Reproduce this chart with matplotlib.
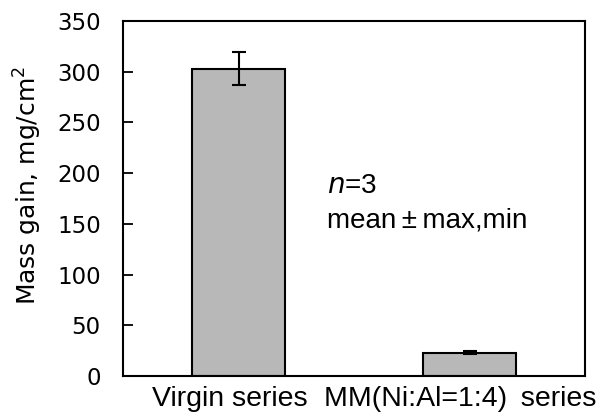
import numpy as np
import matplotlib
matplotlib.use('Agg')
import matplotlib.pyplot as plt
import matplotlib.transforms as mtransforms

plt.rcParams['font.family'] = ['Liberation Sans', 'DejaVu Sans']

categories = ['Virgin series', 'MM(Ni:Al=1:4) \u2009series']
means = [303, 23]
err_low = [16, 1]
err_high = [16, 2]

fig = plt.figure(figsize=(5.97, 4.16), dpi=100)
ax = fig.add_axes([123 / 597, 1 - 376 / 416, 462 / 597, 355 / 416])

x = np.arange(len(categories))
ax.bar(x, means, width=0.4, color='#b8b8b8', edgecolor='black', linewidth=1.5,
       yerr=[err_low, err_high], capsize=4.7,
       error_kw=dict(elinewidth=1.5, capthick=1.5, ecolor='black'))

ax.set_xlim(-0.5, 1.5)
ax.set_ylim(0, 350)
ax.set_yticks(np.arange(0, 351, 50))
ax.set_xticks(x)
ax.set_xticklabels(categories, fontsize=20.5)
ax.tick_params(axis='y', direction='in', length=7, width=1.3, pad=16)
ax.tick_params(axis='x', length=0, pad=7)
for lab in ax.get_yticklabels():
    lab.set_fontfamily('DejaVu Sans')
    lab.set_fontsize(16.5)
# labels sit a bit left of their bars in the original
shift = mtransforms.ScaledTranslation(-9 / 100, 0, fig.dpi_scale_trans)
for lab in ax.get_xticklabels():
    lab.set_transform(lab.get_transform() + shift)
for s in ax.spines.values():
    s.set_linewidth(1.5)

ax.set_ylabel('Mass gain, mg/cm$^2$', fontsize=18, family='DejaVu Sans')
ax.yaxis.set_label_coords(-0.17, 0.538)

ax.text(0.385, 180.4, '$n$=3', fontsize=20, va='baseline')
ax.text(0.385, 146, 'mean\u2009\u00b1\u2009max,min', fontsize=20, va='baseline')

fig.savefig('out.png', dpi=100)
